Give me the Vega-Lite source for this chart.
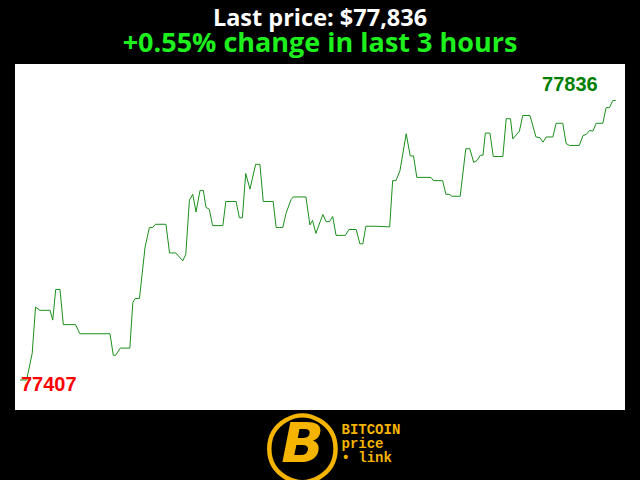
{
  "$schema": "https://vega.github.io/schema/vega-lite/v6.json",
  "width": 610,
  "height": 346,
  "autosize": "none",
  "padding": {"left": 15, "top": 64, "right": 15, "bottom": 70},
  "background": "black",
  "config": {"view": {"fill": "white", "stroke": null}},
  "title": {
    "text": "Last price: $77,836",
    "subtitle": "+0.55% change in last 3 hours",
    "color": "white",
    "subtitleColor": "#1ef01e",
    "font": "Open Sans",
    "subtitleFont": "Open Sans",
    "fontWeight": "bold",
    "subtitleFontWeight": "bold",
    "fontSize": 23.5,
    "subtitleFontSize": 27,
    "anchor": "middle",
    "offset": 7,
    "subtitlePadding": 1
  },
  "data": {"values": [
    {"minute": 0, "price": 77407}, {"minute": 2.0, "price": 77407}, {"minute": 3.7, "price": 77448},
    {"minute": 4.7, "price": 77519}, {"minute": 6.0, "price": 77514}, {"minute": 9.1, "price": 77514},
    {"minute": 9.9, "price": 77499}, {"minute": 10.8, "price": 77546}, {"minute": 12.1, "price": 77546},
    {"minute": 13.1, "price": 77492}, {"minute": 16.8, "price": 77492}, {"minute": 18.1, "price": 77478},
    {"minute": 27.2, "price": 77478}, {"minute": 28.2, "price": 77445}, {"minute": 28.9, "price": 77445},
    {"minute": 30.3, "price": 77456}, {"minute": 33.2, "price": 77456}, {"minute": 34.1, "price": 77526},
    {"minute": 34.8, "price": 77532}, {"minute": 36.1, "price": 77532}, {"minute": 37.8, "price": 77611},
    {"minute": 39.1, "price": 77641}, {"minute": 40.1, "price": 77641}, {"minute": 40.9, "price": 77646},
    {"minute": 44.1, "price": 77646}, {"minute": 45.2, "price": 77602}, {"minute": 47.1, "price": 77602},
    {"minute": 49.2, "price": 77590}, {"minute": 50.1, "price": 77600}, {"minute": 51.2, "price": 77683},
    {"minute": 52.2, "price": 77692}, {"minute": 53.2, "price": 77665}, {"minute": 54.4, "price": 77698},
    {"minute": 55.4, "price": 77698}, {"minute": 56.2, "price": 77672}, {"minute": 57.2, "price": 77669},
    {"minute": 58.2, "price": 77644}, {"minute": 61.3, "price": 77644}, {"minute": 62.2, "price": 77681},
    {"minute": 65.3, "price": 77681}, {"minute": 66.3, "price": 77656}, {"minute": 67.2, "price": 77656},
    {"minute": 68.2, "price": 77724}, {"minute": 69.5, "price": 77700}, {"minute": 71.2, "price": 77738},
    {"minute": 72.5, "price": 77738}, {"minute": 73.5, "price": 77681}, {"minute": 76.5, "price": 77681},
    {"minute": 77.4, "price": 77641}, {"minute": 79.4, "price": 77641}, {"minute": 80.4, "price": 77663},
    {"minute": 81.9, "price": 77684}, {"minute": 82.6, "price": 77688}, {"minute": 86.4, "price": 77688},
    {"minute": 87.6, "price": 77645}, {"minute": 88.4, "price": 77652}, {"minute": 89.4, "price": 77632},
    {"minute": 91.5, "price": 77661}, {"minute": 92.5, "price": 77650}, {"minute": 93.5, "price": 77650},
    {"minute": 94.5, "price": 77658}, {"minute": 95.5, "price": 77629}, {"minute": 98.3, "price": 77629},
    {"minute": 99.4, "price": 77638}, {"minute": 101.6, "price": 77638}, {"minute": 102.7, "price": 77616},
    {"minute": 103.6, "price": 77616}, {"minute": 104.5, "price": 77643}, {"minute": 107.6, "price": 77643},
    {"minute": 111.7, "price": 77642}, {"minute": 112.6, "price": 77713}, {"minute": 113.6, "price": 77713},
    {"minute": 114.8, "price": 77728}, {"minute": 116.7, "price": 77785}, {"minute": 117.9, "price": 77751},
    {"minute": 118.9, "price": 77751}, {"minute": 119.9, "price": 77718}, {"minute": 124.2, "price": 77718},
    {"minute": 124.9, "price": 77713}, {"minute": 127.7, "price": 77713}, {"minute": 128.7, "price": 77692},
    {"minute": 129.7, "price": 77692}, {"minute": 130.5, "price": 77689}, {"minute": 133.0, "price": 77689},
    {"minute": 134.7, "price": 77762}, {"minute": 135.9, "price": 77762}, {"minute": 137.1, "price": 77741},
    {"minute": 138.1, "price": 77744}, {"minute": 139.1, "price": 77752}, {"minute": 139.9, "price": 77752},
    {"minute": 140.6, "price": 77786}, {"minute": 142.0, "price": 77786}, {"minute": 143.0, "price": 77750},
    {"minute": 145.9, "price": 77750}, {"minute": 146.9, "price": 77808}, {"minute": 148.2, "price": 77808},
    {"minute": 148.9, "price": 77777}, {"minute": 150.9, "price": 77789}, {"minute": 151.9, "price": 77813},
    {"minute": 154.1, "price": 77813}, {"minute": 155.9, "price": 77780}, {"minute": 157.1, "price": 77779},
    {"minute": 158.0, "price": 77772}, {"minute": 159.0, "price": 77780}, {"minute": 161.0, "price": 77780},
    {"minute": 162.0, "price": 77801}, {"minute": 164.0, "price": 77801}, {"minute": 165.0, "price": 77770},
    {"minute": 166.0, "price": 77767}, {"minute": 169.0, "price": 77767}, {"minute": 170.1, "price": 77782},
    {"minute": 171.1, "price": 77784}, {"minute": 172.1, "price": 77790}, {"minute": 173.1, "price": 77789},
    {"minute": 174.1, "price": 77801}, {"minute": 176.1, "price": 77801}, {"minute": 177.1, "price": 77825},
    {"minute": 178.1, "price": 77825}, {"minute": 179.1, "price": 77836}, {"minute": 180, "price": 77836}
  ]},
  "layer": [
    {
      "mark": {"type": "line", "color": "#1a8f1a", "strokeWidth": 1},
      "encoding": {
        "x": {
          "field": "minute", "type": "quantitative",
          "scale": {"domain": [-1.5, 182.8], "nice": false},
          "axis": {
            "orient": "bottom", "labels": false, "ticks": false, "domain": false, "grid": false,
            "title": ["BITCOIN", "price", "• link"],
            "titleFont": "Liberation Mono", "titleFontWeight": "bold", "titleFontSize": 14,
            "titleColor": "#f4b400", "titleAlign": "left", "titleBaseline": "top",
            "titleX": 326, "titleY": 12, "titleLineHeight": 14
          }
        },
        "y": {
          "field": "price", "type": "quantitative",
          "scale": {"domain": [77361, 77892], "zero": false, "nice": false},
          "axis": {
            "labels": false, "ticks": false, "domain": false, "grid": false,
            "title": "◯", "titleAngle": 0, "titleX": 287, "titleY": 381,
            "titleAlign": "center", "titleBaseline": "middle",
            "titleFont": "DejaVu Sans", "titleFontWeight": "bold", "titleFontSize": 70,
            "titleColor": "#f4b400"
          }
        }
      }
    },
    {
      "transform": [{"filter": "datum.minute == 180"}],
      "mark": {"type": "text", "align": "right", "baseline": "alphabetic", "dx": -18, "dy": -9,
               "font": "Liberation Sans", "fontWeight": "bold", "fontSize": 20, "color": "#008000"},
      "encoding": {
        "x": {"field": "minute", "type": "quantitative", "scale": {"domain": [-1.5, 182.8], "nice": false}},
        "y": {
          "field": "price", "type": "quantitative",
          "scale": {"domain": [77361, 77892], "zero": false, "nice": false},
          "axis": {
            "orient": "right", "labels": false, "ticks": false, "domain": false, "grid": false,
            "title": "B", "titleAngle": 0, "titleX": -323, "titleY": 380,
            "titleAlign": "center", "titleBaseline": "middle",
            "titleFont": "DejaVu Sans", "titleFontWeight": "bold", "titleFontStyle": "italic", "titleFontSize": 56,
            "titleColor": "#f4b400"
          }
        },
        "text": {"field": "price", "type": "quantitative", "format": "d"}
      }
    },
    {
      "transform": [{"filter": "datum.minute == 0"}],
      "mark": {"type": "text", "align": "left", "baseline": "alphabetic", "dx": 1, "dy": 11,
               "font": "Liberation Sans", "fontWeight": "bold", "fontSize": 20, "color": "#ff0000"},
      "encoding": {
        "x": {"field": "minute", "type": "quantitative", "scale": {"domain": [-1.5, 182.8], "nice": false}},
        "y": {"field": "price", "type": "quantitative", "scale": {"domain": [77361, 77892], "zero": false, "nice": false}, "axis": null},
        "text": {"field": "price", "type": "quantitative", "format": "d"}
      }
    }
  ],
  "resolve": {"scale": {"y": "independent"}, "axis": {"y": "independent"}}
}
